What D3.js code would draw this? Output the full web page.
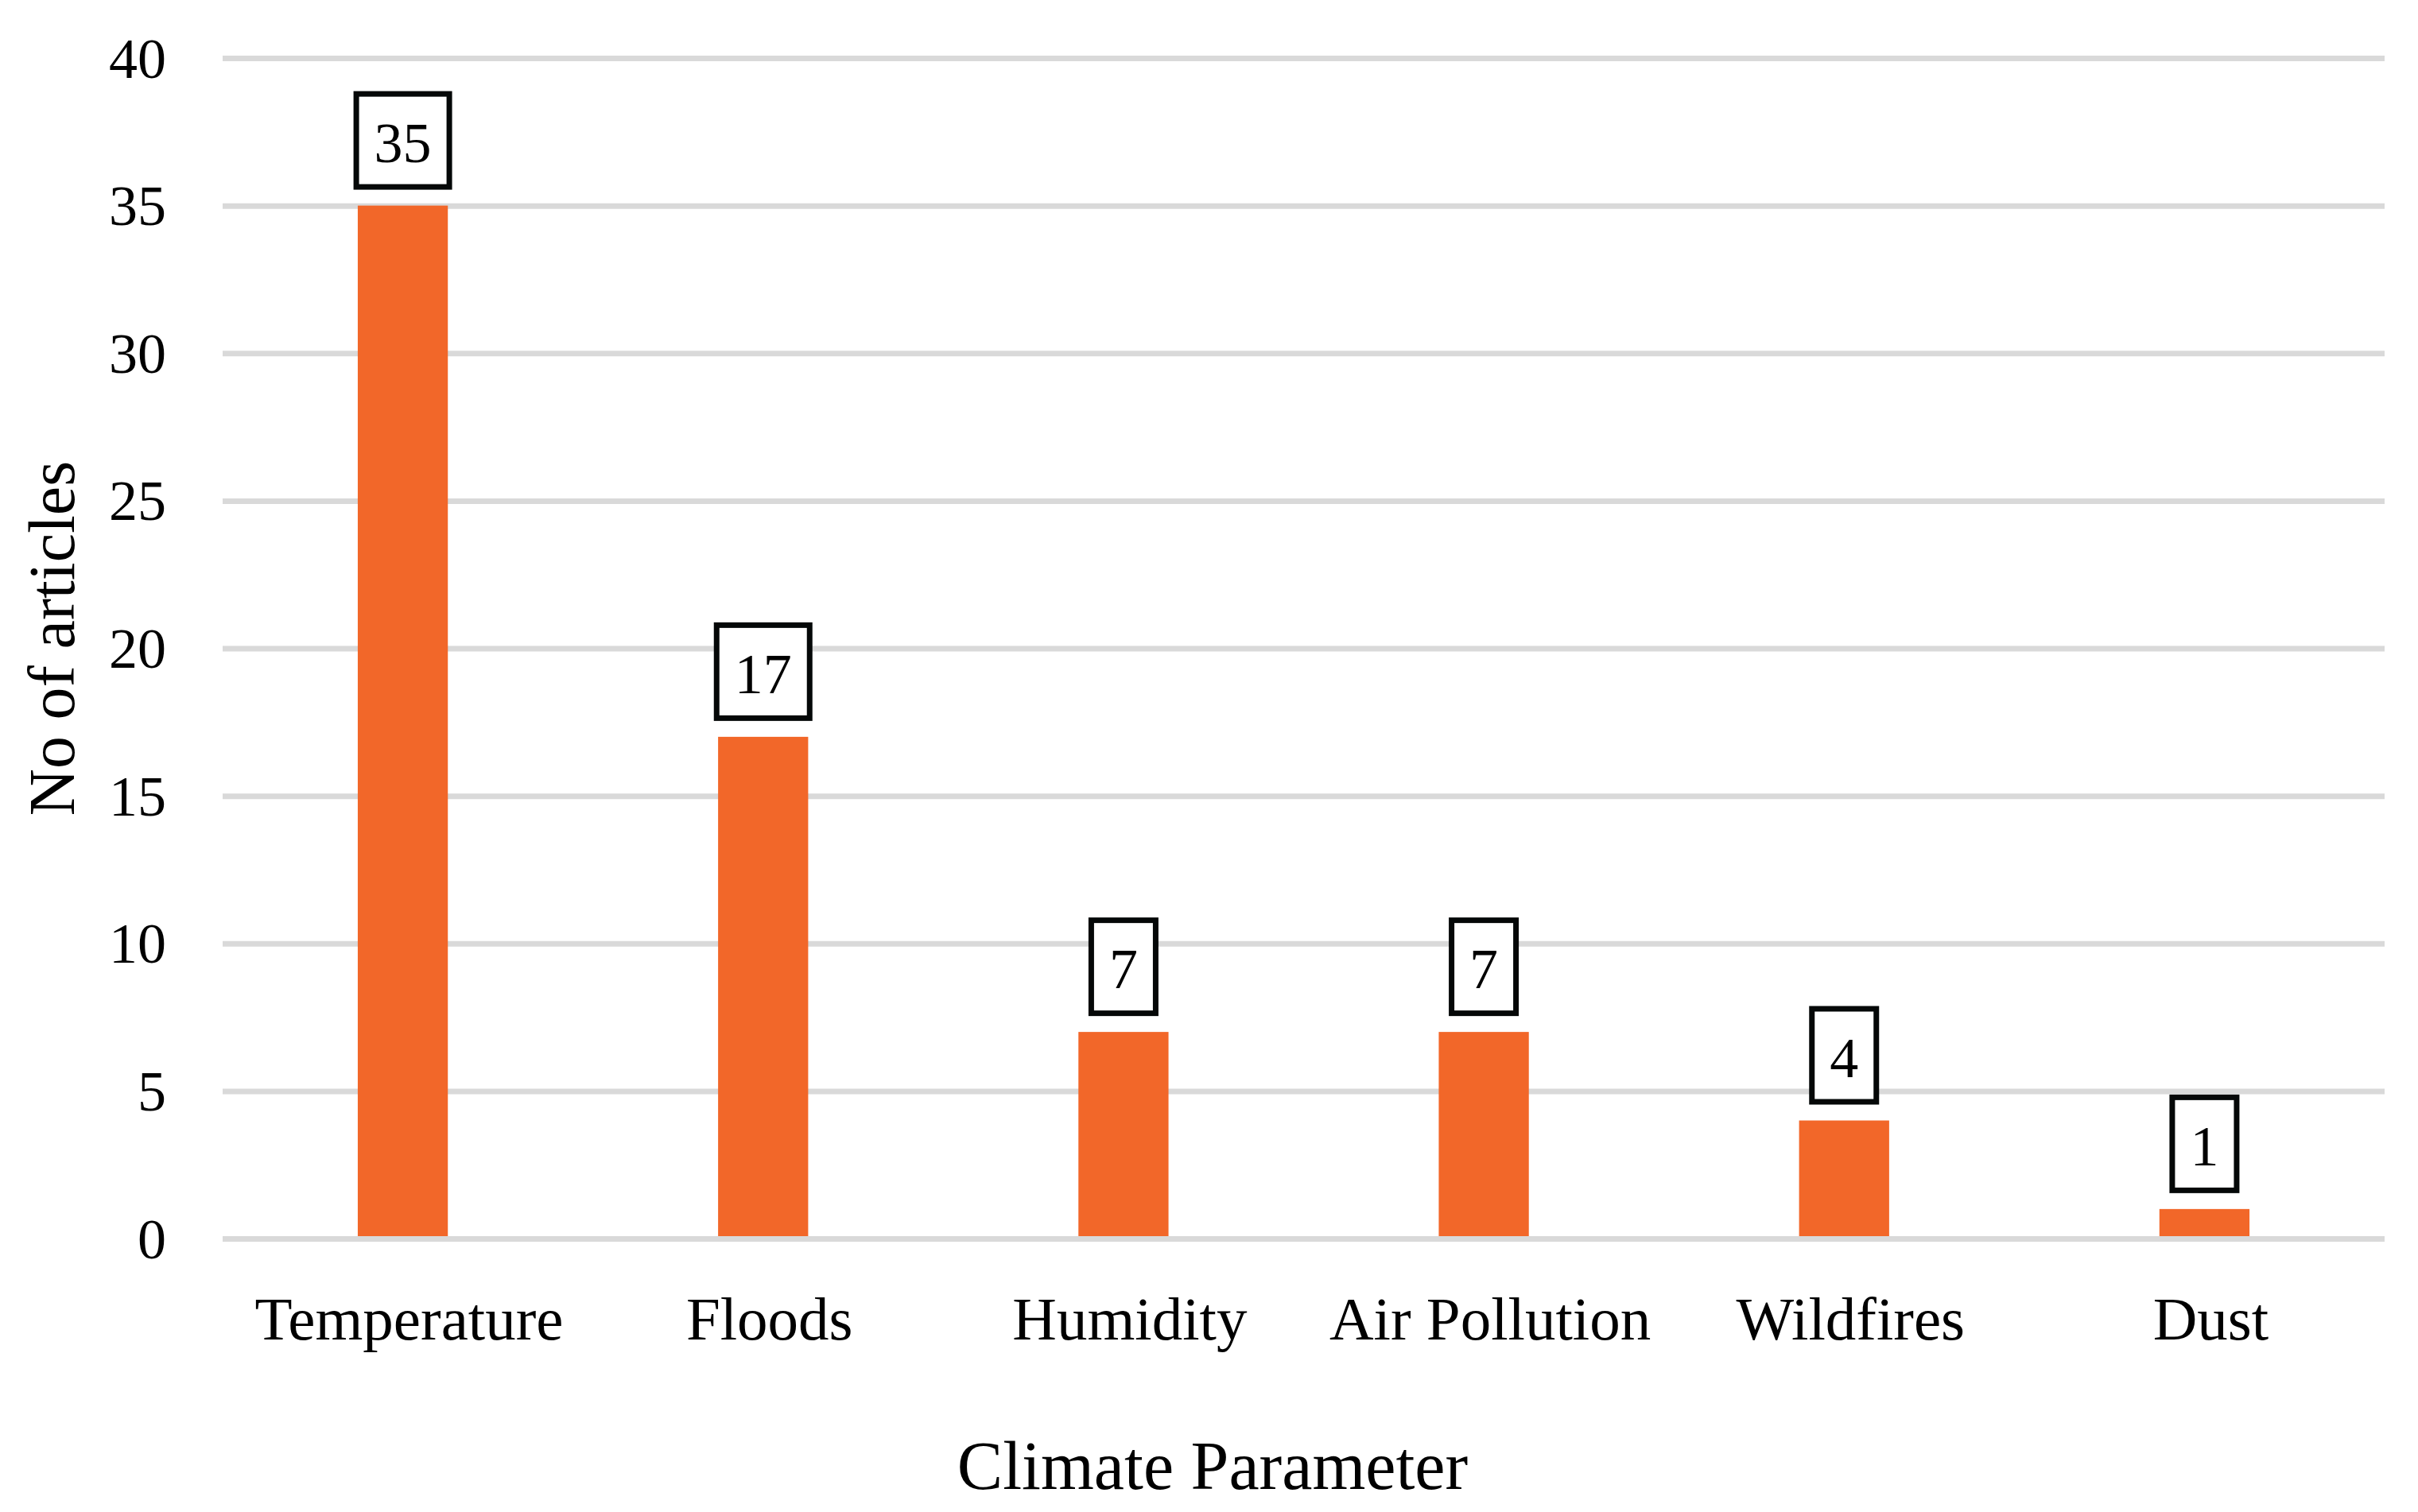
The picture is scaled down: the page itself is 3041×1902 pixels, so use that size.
<!DOCTYPE html>
<html>
<head>
<meta charset="utf-8">
<script src="https://cdn.jsdelivr.net/npm/d3@7"></script>
<style>
  html, body { margin: 0; padding: 0; background: #ffffff; }
  svg { display: block; }
  text { font-family: "Palatino Linotype", "Book Antiqua", Palatino, "Liberation Serif", serif; fill: #000; }
</style>
</head>
<body>
<svg id="chart" width="3041" height="1902"></svg>
<script>
const categories = ["Temperature", "Floods", "Humidity", "Air Pollution", "Wildfires", "Dust"];
const values = [35, 17, 7, 7, 4, 1];
const yTicks = [0, 5, 10, 15, 20, 25, 30, 35, 40];
const yTitle = "No of articles";
const xTitle = "Climate Parameter";

const W = 3041, H = 1902;
const plot = { left: 280, right: 2999, top: 73, bottom: 1558 };

const svg = d3.select("#chart");

const x = d3.scaleBand()
  .domain(categories)
  .range([plot.left, plot.right])
  .paddingInner(0.75)
  .paddingOuter(0.375);

const y = d3.scaleLinear()
  .domain([0, 40])
  .range([plot.bottom, plot.top]);

// gridlines
const grid = svg.append("g")
  .attr("transform", `translate(${plot.left},0)`)
  .call(d3.axisLeft(y).tickValues(yTicks).tickSize(-(plot.right - plot.left)).tickFormat(""));
grid.select(".domain").remove();
grid.selectAll("line").attr("stroke", "#d9d9d9").attr("stroke-width", 7);

// y tick labels
const yAxis = svg.append("g")
  .attr("transform", `translate(209,0)`)
  .call(d3.axisLeft(y).tickValues(yTicks).tickSize(0).tickPadding(0).tickFormat(d3.format("d")));
yAxis.select(".domain").remove();
yAxis.selectAll("text")
  .attr("font-size", 72)
  .attr("dy", null)
  .attr("y", 24)
  .style("font-family", '"Palatino Linotype", "Book Antiqua", Palatino, "Liberation Serif", serif')
  .attr("fill", "#000");

// bars
svg.append("g").selectAll("rect")
  .data(values)
  .join("rect")
  .attr("x", (d, i) => x(categories[i]))
  .attr("width", x.bandwidth())
  .attr("y", d => y(d))
  .attr("height", d => y(0) - y(d) - 3)
  .attr("fill", "#f26729");

// x category labels
svg.append("g").selectAll("text")
  .data(categories)
  .join("text")
  .attr("x", d => x(d) + x.bandwidth() / 2 + 8)
  .attr("y", 1685)
  .attr("text-anchor", "middle")
  .attr("font-size", 77)
  .text(d => d);

// data labels in boxes
const labels = svg.append("g").selectAll("g")
  .data(values)
  .join("g");

labels.each(function(d, i) {
  const g = d3.select(this);
  const cx = x(categories[i]) + x.bandwidth() / 2;
  const boxBottom = y(d) - 20;
  const boxH = 124;
  const t = g.append("text")
    .attr("x", cx)
    .attr("y", boxBottom - 35)
    .attr("text-anchor", "middle")
    .attr("font-size", 72)
    .text(d);
  const tw = t.node().getComputedTextLength();
  const bw = tw + 52;
  g.insert("rect", "text")
    .attr("x", cx - bw / 2 + 3.5)
    .attr("y", boxBottom - boxH + 3.5)
    .attr("width", bw - 7)
    .attr("height", boxH - 7)
    .attr("fill", "#fff")
    .attr("stroke", "#050808")
    .attr("stroke-width", 7);
});

// axis titles
svg.append("text")
  .attr("transform", `translate(93,803) rotate(-90)`)
  .attr("text-anchor", "middle")
  .attr("font-size", 82)
  .text(yTitle);

svg.append("text")
  .attr("x", 1525)
  .attr("y", 1873)
  .attr("text-anchor", "middle")
  .attr("font-size", 86)
  .text(xTitle);
</script>
</body>
</html>
